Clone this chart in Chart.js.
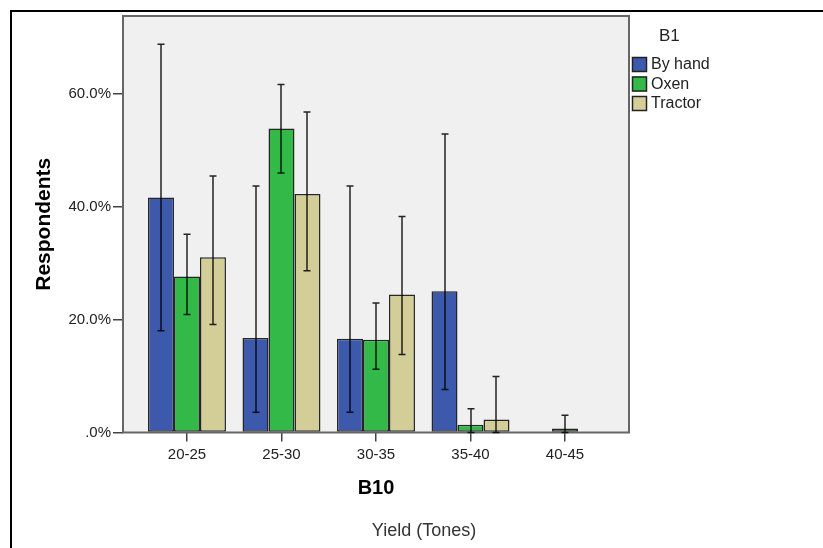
<!DOCTYPE html>
<html>
<head>
    <title>Respondents by yield and B1</title>
    <script src="https://cdn.jsdelivr.net/npm/chart.js@4.4.3/dist/chart.umd.min.js"></script>
    <style>
        body {
            margin: 0;
            background: #fff;
        }
    </style>
</head>
<body>
    <canvas id="chart" width="823" height="548"></canvas>
    <script>
        // values (percent of respondents)
        const categories = ['20-25', '25-30', '30-35', '35-40', '40-45']
        const seriesNames = ['By hand', 'Oxen', 'Tractor']

        const byHand = [41.6, 16.7, 16.6, 25.0, 0]
        const oxen = [27.6, 53.8, 16.4, 1.35, 0.7]
        const tractor = [31.0, 42.2, 24.4, 2.3, 0]

        // error bar ends
        const byHandLow = [18.0, 3.6, 3.6, 7.6, null]
        const byHandHigh = [68.7, 43.6, 43.6, 52.8, null]
        const oxenLow = [20.9, 45.9, 11.2, 0, 0]
        const oxenHigh = [35.1, 61.6, 22.9, 4.2, 3.05]
        const tractorLow = [19.1, 28.6, 13.8, 0, null]
        const tractorHigh = [45.4, 56.7, 38.2, 9.9, null]

        const yTicks = [0, 20, 40, 60]
        const yTickLabels = ['.0%', '20.0%', '40.0%', '60.0%']

        const legendTitle = 'B1'
        const xTitle = 'B10'
        const xSubTitle = 'Yield (Tones)'
        const yTitle = 'Respondents'

        const colors = ['#3d59ab', '#32b948', '#d3ce97']
        const lows = [byHandLow, oxenLow, tractorLow]
        const highs = [byHandHigh, oxenHigh, tractorHigh]

        const FONT = '"Liberation Sans", Arial, sans-serif'

        const toPoints = arr => arr.map((v, i) => ({ x: i, y: v }))

        const framePlugin = {
            id: 'frame',
            beforeDraw(chart) {
                const { ctx, chartArea: a } = chart
                ctx.save()
                ctx.fillStyle = '#fff'
                ctx.fillRect(0, 0, chart.width, chart.height)
                ctx.strokeStyle = '#000'
                ctx.lineWidth = 2
                ctx.strokeRect(11, 11, 900, 900)
                ctx.fillStyle = '#f0f0f0'
                ctx.fillRect(a.left, a.top, a.right - a.left, a.bottom - a.top)
                ctx.restore()
            },
            afterDatasetsDraw(chart) {
                const { ctx, chartArea: a } = chart
                const yScale = chart.scales.y
                ctx.save()
                ctx.strokeStyle = '#666'
                ctx.lineWidth = 2
                ctx.strokeRect(a.left, a.top, a.right - a.left, a.bottom - a.top)

                // error bars
                ctx.strokeStyle = 'rgba(0,0,0,0.85)'
                ctx.lineWidth = 1.5
                chart.data.datasets.forEach((ds, di) => {
                    chart.getDatasetMeta(di).data.forEach((bar, i) => {
                        const lo = lows[di][i], hi = highs[di][i]
                        if (lo === null || hi === null) return
                        const x = Math.round(bar.x)
                        const y1 = yScale.getPixelForValue(lo)
                        const y2 = yScale.getPixelForValue(hi)
                        ctx.beginPath()
                        ctx.moveTo(x, y1)
                        ctx.lineTo(x, y2)
                        ctx.moveTo(x - 3.5, y1)
                        ctx.lineTo(x + 3.5, y1)
                        ctx.moveTo(x - 3.5, y2)
                        ctx.lineTo(x + 3.5, y2)
                        ctx.stroke()
                    })
                })
                ctx.restore()
            },
            afterDraw(chart) {
                const { ctx } = chart
                ctx.save()
                // legend
                ctx.fillStyle = '#222'
                ctx.textBaseline = 'middle'
                ctx.textAlign = 'left'
                ctx.font = '17px ' + FONT
                ctx.fillText(legendTitle, 659, 36)
                ctx.font = '16px ' + FONT
                chart.data.datasets.forEach((ds, i) => {
                    const top = 57 + i * 19.5
                    ctx.fillStyle = ds.backgroundColor
                    ctx.fillRect(632.5, top, 14, 15)
                    ctx.strokeStyle = '#222'
                    ctx.lineWidth = 1.5
                    ctx.strokeRect(632.5, top + 0.5, 14, 14)
                    ctx.fillStyle = '#222'
                    ctx.fillText(ds.label, 651, top + 8)
                })
                // second x title
                ctx.font = '18px ' + FONT
                ctx.fillStyle = '#333'
                ctx.textAlign = 'center'
                ctx.fillText(xSubTitle, 424, 531)
                ctx.restore()
            }
        }

        new Chart(document.getElementById('chart'), {
            type: 'bar',
            data: {
                datasets: [byHand, oxen, tractor].map((vals, i) => ({
                    label: seriesNames[i],
                    data: toPoints(vals),
                    backgroundColor: colors[i],
                    borderColor: '#262626',
                    borderWidth: 1.5,
                    borderSkipped: false
                }))
            },
            options: {
                responsive: false,
                animation: false,
                devicePixelRatio: 1,
                categoryPercentage: 0.825,
                barPercentage: 1,
                layout: {
                    padding: { left: 0, right: 194, top: 16, bottom: 0 }
                },
                plugins: {
                    legend: { display: false },
                    tooltip: { enabled: false }
                },
                scales: {
                    x: {
                        type: 'linear',
                        offset: false,
                        min: -0.677,
                        max: 4.677,
                        afterBuildTicks: scale => {
                            scale.ticks = categories.map((c, i) => ({ value: i }))
                        },
                        afterFit: scale => {
                            scale.height = 548 - 432.5
                        },
                        border: { display: false },
                        grid: {
                            offset: false,
                            drawOnChartArea: false,
                            drawTicks: true,
                            tickLength: 9,
                            color: '#444',
                            lineWidth: 1.5
                        },
                        ticks: {
                            padding: 4,
                            color: '#222',
                            font: { family: FONT, size: 15 },
                            callback: v => categories[v]
                        },
                        title: {
                            display: true,
                            text: xTitle,
                            color: '#000',
                            font: { family: FONT, size: 20, weight: 'bold' },
                            padding: { top: 0, bottom: 48 }
                        }
                    },
                    y: {
                        min: 0,
                        max: 73.7,
                        afterBuildTicks: scale => {
                            scale.ticks = yTicks.map(v => ({ value: v }))
                        },
                        afterFit: scale => {
                            scale.width = 123
                        },
                        border: { display: false },
                        grid: {
                            drawOnChartArea: false,
                            drawTicks: true,
                            tickLength: 10,
                            color: '#444',
                            lineWidth: 1.5
                        },
                        ticks: {
                            padding: 2,
                            color: '#222',
                            font: { family: FONT, size: 15 },
                            callback: v => yTickLabels[yTicks.indexOf(v)]
                        },
                        title: {
                            display: true,
                            text: yTitle,
                            color: '#000',
                            font: { family: FONT, size: 21, weight: 'bold' },
                            padding: { top: 32, bottom: 0 }
                        }
                    }
                }
            },
            plugins: [framePlugin]
        })
    </script>
</body>
</html>
